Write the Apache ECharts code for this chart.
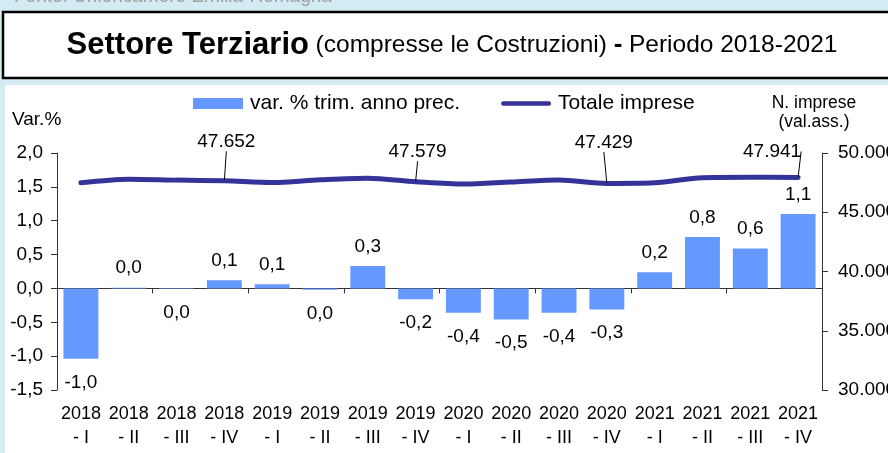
<!DOCTYPE html>
<html>
<head>
<meta charset="utf-8">
<script src="https://cdn.jsdelivr.net/npm/echarts@6/dist/echarts.min.js"></script>
<style>
  html, body { margin: 0; padding: 0; background: #d3ebf2; }
  #chart { width: 888px; height: 453px; }
</style>
</head>
<body>
<div id="chart"></div>
<script>
// trimestri
const periodi = ['2018 - I', '2018 - II', '2018 - III', '2018 - IV',
    '2019 - I', '2019 - II', '2019 - III', '2019 - IV',
    '2020 - I', '2020 - II', '2020 - III', '2020 - IV',
    '2021 - I', '2021 - II', '2021 - III', '2021 - IV'];

// var. % trim. anno prec.
const varPerc = [-1.04, 0.01, -0.01, 0.12, 0.06, -0.02, 0.33, -0.16,
    -0.36, -0.46, -0.36, -0.31, 0.24, 0.76, 0.59, 1.10];

// Totale imprese (val.ass.)
const totImprese = [47484, 47795, 47711, 47652, 47509, 47736, 47879, 47579,
    47375, 47543, 47711, 47429, 47484, 47920, 47960, 47941];

// punti con etichetta sulla linea
const etichetteLinea = [3, 7, 11, 15];

function fmtVar(v) {
    if (Math.abs(v) < 0.05) return '0,0';
    return v.toFixed(1).replace('.', ',');
}
function fmtMigliaia(v) {
    let s = String(Math.round(v));
    return s.replace(/\B(?=(\d{3})+(?!\d))/g, '.');
}

let myChart = echarts.init(document.getElementById('chart'));

const FONT = 'Liberation Sans';

let barData = varPerc.map(function (v) {
    return {
        value: v,
        label: { position: v < 0 ? 'bottom' : 'top', distance: v < 0 ? 14 : 10 }
    };
});

let lineData = totImprese.map(function (v, i) {
    return {
        value: v,
        label: { show: etichetteLinea.indexOf(i) >= 0 }
    };
});

// spostamento etichette linea (dx, dy)
const spostamenti = { 3: [2, -24], 7: [2, -15], 11: [-3, -26], 15: [-26, -11] };

let option = {
    backgroundColor: '#d3ebf2',
    textStyle: { fontFamily: FONT },
    graphic: [
        {
            type: 'text', left: 14, top: -13,
            style: { text: 'Fonte: Unioncamere Emilia-Romagna', fill: '#a0a0a0', font: '19px ' + FONT }
        },
        {
            type: 'rect', shape: { x: 3, y: 12, width: 900, height: 66 },
            style: { fill: '#fff', stroke: '#000', lineWidth: 2.5 }
        },
        {
            type: 'rect', shape: { x: 5, y: 85, width: 900, height: 380 },
            style: { fill: '#fff' }
        },
        {
            type: 'text', x: 452, y: 45,
            style: {
                text: '{b|Settore Terziario}{s| }{n|(compresse le Costruzioni)}{s| }{q|-}{s| }{n|Periodo 2018-2021}',
                align: 'center', verticalAlign: 'middle',
                rich: {
                    b: { font: 'bold 31px ' + FONT, fill: '#000' },
                    n: { font: '24.5px ' + FONT, fill: '#000' },
                    q: { font: 'bold 26px ' + FONT, fill: '#000' },
                    s: { font: '24px ' + FONT, fill: '#000' }
                }
            }
        },
        {
            type: 'text', x: 12, y: 120,
            style: { text: 'Var.%', font: '19px ' + FONT, fill: '#000', verticalAlign: 'middle' }
        },
        {
            type: 'text', x: 814, y: 113,
            style: {
                text: 'N. imprese\n(val.ass.)', font: '17.5px ' + FONT, fill: '#000',
                align: 'center', verticalAlign: 'middle', lineHeight: 19
            }
        }
    ],
    legend: {
        left: 193,
        top: 93,
        padding: 0,
        itemWidth: 50,
        itemHeight: 11,
        itemGap: 41,
        textStyle: { fontFamily: FONT, fontSize: 21, color: '#000', padding: [0, 0, 0, 2] },
        data: [
            { name: 'var. % trim. anno prec.', icon: 'rect' },
            { name: 'Totale imprese', icon: 'path://M2,0 L52,0 A2.5,2.5 0 0 1 52,5 L2,5 A2.5,2.5 0 0 1 2,0 Z' }
        ]
    },
    grid: { left: 57, right: 66, top: 153, bottom: 63, outerBoundsMode: 'none' },
    xAxis: [
        {
            type: 'category',
            data: periodi,
            axisLine: { show: false },
            axisTick: { show: false },
            axisLabel: {
                color: '#000', fontFamily: FONT, fontSize: 18, margin: 12, lineHeight: 24,
                interval: 0,
                formatter: function (v) { return v.replace(' - ', '\n- '); }
            }
        },
        {
            type: 'category',
            data: periodi,
            position: 'bottom',
            axisLine: { show: true, onZero: true, onZeroAxisIndex: 0, lineStyle: { color: '#333', width: 1 } },
            axisTick: { show: true, length: 5, lineStyle: { color: '#333' } },
            axisLabel: { show: false }
        }
    ],
    yAxis: [
        {
            type: 'value',
            min: -1.5, max: 2, interval: 0.5,
            axisLine: { show: true, lineStyle: { color: '#333' } },
            axisTick: { show: true, length: 6, lineStyle: { color: '#333' } },
            splitLine: { show: false },
            axisLabel: {
                color: '#000', fontFamily: FONT, fontSize: 19, margin: 14,
                formatter: function (v) { return v.toFixed(1).replace('.', ','); }
            }
        },
        {
            type: 'value',
            position: 'right',
            min: 30000, max: 50000, interval: 5000,
            axisLine: { show: true, lineStyle: { color: '#333' } },
            axisTick: { show: true, length: 6, lineStyle: { color: '#333' } },
            splitLine: { show: false },
            axisLabel: {
                color: '#000', fontFamily: FONT, fontSize: 19, margin: 16,
                formatter: fmtMigliaia
            }
        }
    ],
    series: [
        {
            name: 'var. % trim. anno prec.',
            type: 'bar',
            data: barData,
            barCategoryGap: '27%',
            itemStyle: { color: '#6699ff' },
            label: {
                show: true, color: '#000',
                fontFamily: FONT, fontSize: 19,
                formatter: function (p) { return fmtVar(p.value); }
            }
        },
        {
            name: 'Totale imprese',
            type: 'line',
            yAxisIndex: 1,
            data: lineData,
            smooth: 0.3,
            symbol: 'circle',
            symbolSize: 1,
            showSymbol: true,
            lineStyle: { color: '#333399', width: 5, cap: 'round' },
            itemStyle: { color: '#333399' },
            label: {
                show: false, position: 'top', distance: 5, color: '#000',
                fontFamily: FONT, fontSize: 19,
                formatter: function (p) { return fmtMigliaia(p.value); }
            },
            labelLine: { show: true, lineStyle: { color: '#000', width: 1 } },
            labelLayout: function (params) {
                let s = spostamenti[params.dataIndex];
                if (!s) return {};
                return { dx: s[0], dy: s[1] };
            },
            z: 3
        }
    ]
};

myChart.setOption(option);
</script>
</body>
</html>
